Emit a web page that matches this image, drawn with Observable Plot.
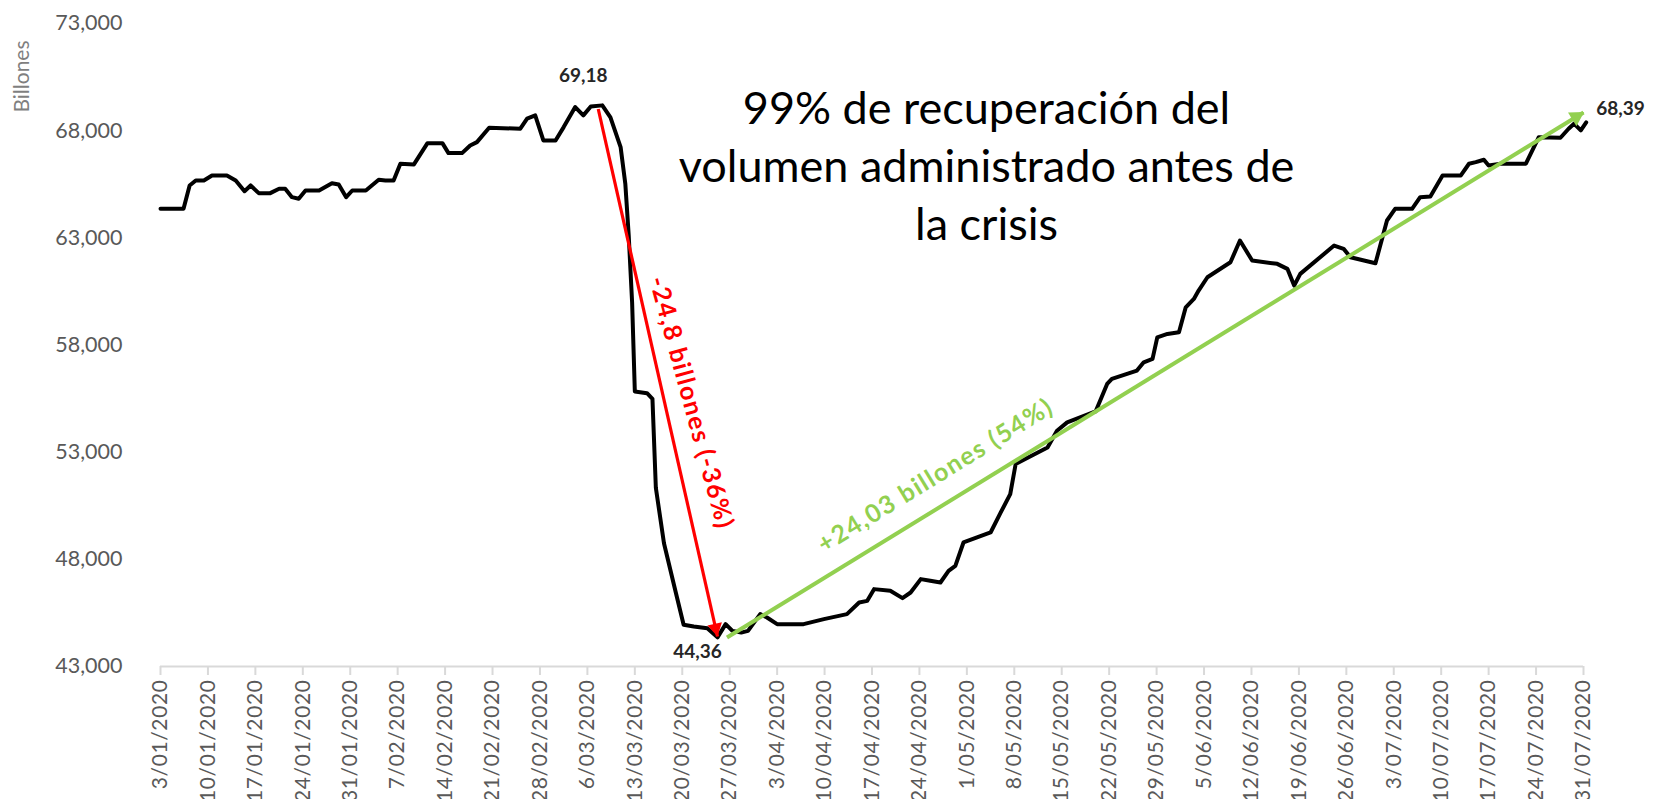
<!DOCTYPE html>
<html>
<head>
<meta charset="utf-8">
<script src="https://cdn.jsdelivr.net/npm/d3@7"></script>
<script src="https://cdn.jsdelivr.net/npm/@observablehq/plot@0.6"></script>
<style>
  html, body { margin: 0; padding: 0; background: #ffffff; }
  #chart { position: relative; width: 1654px; height: 799px; }
</style>
</head>
<body>
<div id="chart"></div>
<script>
// ---- Data ----
const startDate = "2020-01-03";
// days after 3/01/2020
const dayOffsets = [
  0, 3.4, 4.3, 5.2, 6.4, 7.6, 9.8, 11.1, 12.4, 13.3, 14.5, 16.2, 17.5, 18.4, 19.4, 20.4,
  21.4, 23.4, 25.3, 26.3, 27.4, 28.3, 30.3, 32.2, 33.2, 34.4, 35.4, 37.4, 39.4, 41.6, 42.5,
  44.5, 45.7, 46.7, 48.5, 53.1, 54.1, 55.3, 56.5, 58.3, 59.5, 61.2, 62.4, 63.5, 65.2,
  66.4, 67.9, 68.6, 69.1, 69.6, 70.0, 71.8, 72.6, 73.1, 74.3, 76.0, 77.2, 78.7, 80.7, 82.2,
  83.4, 84.4, 85.7, 86.7, 88.5, 89.5, 91.0, 94.9, 97.9, 101.3, 103.1, 104.3, 105.3, 107.7,
  109.5, 110.7, 112.2, 113.6, 115.1, 116.3, 117.3, 118.5, 120.5, 122.5, 124.0, 125.4, 126.2,
  127.9, 130.9, 132.3, 133.8, 138.0, 139.7, 140.4, 144.1, 145.1, 146.4, 147.1, 148.6, 150.3,
  151.3, 152.5, 153.2, 154.5, 157.9, 159.3, 161.1, 164.8, 166.3, 167.3, 168.2, 173.2, 174.6,
  175.6, 179.3, 181.0, 182.2, 184.7, 185.9, 187.4, 189.2, 191.9, 193.1, 194.1, 195.3, 196.0,
  197.8, 201.5, 203.4, 206.6, 207.8, 208.6, 209.6, 210.4
];
// volumen administrado
const values = [
  64355, 64355, 65443, 65676, 65676, 65910, 65910, 65676, 65177, 65443, 65084, 65084, 65287, 65287, 64897, 64822,
  65209, 65209, 65550, 65490, 64897, 65209, 65209, 65708, 65676, 65676, 66457, 66424, 67418, 67418, 66953,
  66953, 67311, 67466, 68138, 68091, 68558, 68713, 67545, 67545, 68167, 69100, 68713, 69132, 69180,
  68620, 67236, 65508, 63090, 59980, 55830, 55750, 55490, 51340, 48750, 46507, 44952, 44864, 44780, 44360,
  44975, 44663, 44583, 44662, 45442, 45284, 44975, 44975, 45209, 45442, 45984, 46063, 46610, 46530,
  46190, 46452, 47077, 46997, 46920, 47464, 47697, 48786, 49020, 49253, 50187, 51046, 52447,
  52727, 53222, 54002, 54390, 54900, 56184, 56417, 56806, 57192, 57350, 58359, 58515, 58593,
  59760, 60150, 60540, 61161, 61861, 62875, 61941, 61786, 61552, 60773, 61319, 62641, 62487,
  62095, 61815, 63809, 64355, 64355, 64897, 64929, 65910, 65910, 66457, 66531, 66644, 66378,
  66457, 66457, 67698, 67670, 68091, 68325, 68013, 68390
];

const xTickLabels = [
  "3/01/2020","10/01/2020","17/01/2020","24/01/2020","31/01/2020","7/02/2020","14/02/2020",
  "21/02/2020","28/02/2020","6/03/2020","13/03/2020","20/03/2020","27/03/2020","3/04/2020",
  "10/04/2020","17/04/2020","24/04/2020","1/05/2020","8/05/2020","15/05/2020","22/05/2020",
  "29/05/2020","5/06/2020","12/06/2020","19/06/2020","26/06/2020","3/07/2020","10/07/2020",
  "17/07/2020","24/07/2020","31/07/2020"
];
const yTicks = [43000, 48000, 53000, 58000, 63000, 68000, 73000];
const yLabel = "Billones";

// point labels
const pointLabelDays = [65.2, 82.2, 210.4];
const pointLabelValues = [69180, 44360, 68390];
const pointLabelTexts = ["69,18", "44,36", "68,39"];

// arrows (start day, start value, end day, end value)
const dropArrow = [64.6, 69010, 82.2, 44400];
const riseArrow = [83.6, 44350, 210.0, 68850];
const dropText = "-24,8 billones (-36%)";
const riseText = "+24,03 billones (54%)";
const dropTextPos = [78.3, 55300];
const riseTextPos = [114.4, 51900];

const titleText = "99% de recuperación del\nvolumen administrado antes de\nla crisis";
const titlePos = [121.9, 66480];

// ---- Build ----
const W = 1654, H = 799;
const mL = 160, mR = 71, mT = 23, mB = 133;
const t0 = new Date(startDate + "T00:00:00Z");
const DAY = 86400000;
const toDate = d => new Date(+t0 + d * DAY);
const parseLabel = s => { const [dd, mm, yy] = s.split("/").map(Number); return new Date(Date.UTC(yy, mm - 1, dd)); };
const tickDates = xTickLabels.map(parseLabel);
const labelByTime = new Map(tickDates.map((d, i) => [+d, xTickLabels[i]]));

const series = dayOffsets.map((d, i) => ({date: toDate(d), value: values[i]}));
const pts = pointLabelDays.map((d, i) => ({date: toDate(d), value: pointLabelValues[i], text: pointLabelTexts[i]}));

const xDomain = [tickDates[0], tickDates[tickDates.length - 1]];
const yDomain = [yTicks[0], yTicks[yTicks.length - 1]];
const pxPerDay = (W - mL - mR) / ((+xDomain[1] - +xDomain[0]) / DAY);
const pxPerUnit = (H - mT - mB) / (yDomain[1] - yDomain[0]);

function arrowParts(a) {
  const dxp = (a[2] - a[0]) * pxPerDay;
  const dyp = -(a[3] - a[1]) * pxPerUnit;
  const theta = Math.atan2(dyp, dxp);
  return {
    link: [{x1: toDate(a[0]), y1: a[1], x2: toDate(a[2]), y2: a[3]}],
    head: [{date: toDate(a[2]), value: a[3]}],
    thetaDeg: theta * 180 / Math.PI,
    cos: Math.cos(theta), sin: Math.sin(theta)
  };
}
const red = arrowParts(dropArrow);
const green = arrowParts(riseArrow);
const headR = 5.5;
const headHalf = headR * Math.sqrt(Math.PI / (3 * Math.sqrt(3)));

const FONT = "Lato, 'Open Sans', sans-serif";

const plot = Plot.plot({
  width: W, height: H,
  marginLeft: mL, marginRight: mR, marginTop: mT, marginBottom: mB,
  style: {fontFamily: FONT, background: "#ffffff", overflow: "visible"},
  x: {type: "utc", domain: xDomain},
  y: {domain: yDomain},
  marks: [
    Plot.ruleY([yDomain[0]], {stroke: "#d9d9d9", strokeWidth: 2}),
    Plot.axisY({ticks: yTicks, tickSize: 0, tickPadding: 38, tickFormat: d3.format(","),
                fontSize: 21.5, fill: "#595959", label: null}),
    Plot.axisX({ticks: tickDates, tickSize: 9, tickPadding: 4, tickRotate: -90,
                tickFormat: d => labelByTime.get(+d), stroke: "#d9d9d9", strokeWidth: 2,
                fontSize: 21, fill: "#595959", label: null}),
    Plot.text([yLabel], {frameAnchor: "top-left", textAnchor: "middle", lineAnchor: "middle",
                dx: -138, dy: 53, rotate: -90, fontSize: 21, fill: "#7f7f7f"}),
    Plot.line(series, {x: "date", y: "value", stroke: "#000000", strokeWidth: 4, strokeLinejoin: "round"}),
    // red drop arrow
    Plot.link(red.link, {x1: "x1", y1: "y1", x2: "x2", y2: "y2", stroke: "#ff0000", strokeWidth: 3.2}),
    Plot.dot(red.head, {x: "date", y: "value", symbol: "triangle", r: headR, fill: "#ff0000", stroke: null,
             rotate: red.thetaDeg + 90, dx: -red.cos * 2 * headHalf, dy: -red.sin * 2 * headHalf}),
    // green rise arrow
    Plot.link(green.link, {x1: "x1", y1: "y1", x2: "x2", y2: "y2", stroke: "#92d050", strokeWidth: 4}),
    Plot.dot(green.head, {x: "date", y: "value", symbol: "triangle", r: headR + 0.5, fill: "#92d050", stroke: null,
             rotate: green.thetaDeg + 90, dx: -green.cos * 2 * headHalf, dy: -green.sin * 2 * headHalf}),
    // arrow labels
    Plot.text([{date: toDate(dropTextPos[0]), value: dropTextPos[1], text: dropText}],
      {x: "date", y: "value", text: "text", rotate: red.thetaDeg - 2.5, fontSize: 25,
       fontWeight: "bold", fill: "#ff0000"}),
    Plot.text([{date: toDate(riseTextPos[0]), value: riseTextPos[1], text: riseText}],
      {x: "date", y: "value", text: "text", rotate: green.thetaDeg, fontSize: 25,
       fontWeight: "bold", fill: "#92d050"}),
    // point labels
    Plot.text(pts.slice(0, 1), {x: "date", y: "value", text: "text", dx: -19, dy: -29, fontSize: 19, fontWeight: "bold", fill: "#262626"}),
    Plot.text(pts.slice(1, 2), {x: "date", y: "value", text: "text", dx: -20, dy: 15, fontSize: 19, fontWeight: "bold", fill: "#262626"}),
    Plot.text(pts.slice(2, 3), {x: "date", y: "value", text: "text", dx: 10, dy: -13, textAnchor: "start", fontSize: 19, fontWeight: "bold", fill: "#262626"}),
    // central annotation
    Plot.text([{date: toDate(titlePos[0]), value: titlePos[1], text: titleText}],
      {x: "date", y: "value", text: "text", fontSize: 45, lineHeight: 1.29, fill: "#000000"})
  ]
});
// letter spacing (styling only)
d3.select(plot).selectAll("text").each(function() {
  const t = this.textContent;
  if (t === dropText || t === riseText) this.style.letterSpacing = "1.5px";
  else if (labelByTime && xTickLabels.includes(t)) this.style.letterSpacing = "0.6px";
});
document.getElementById("chart").appendChild(plot);
</script>
</body>
</html>
